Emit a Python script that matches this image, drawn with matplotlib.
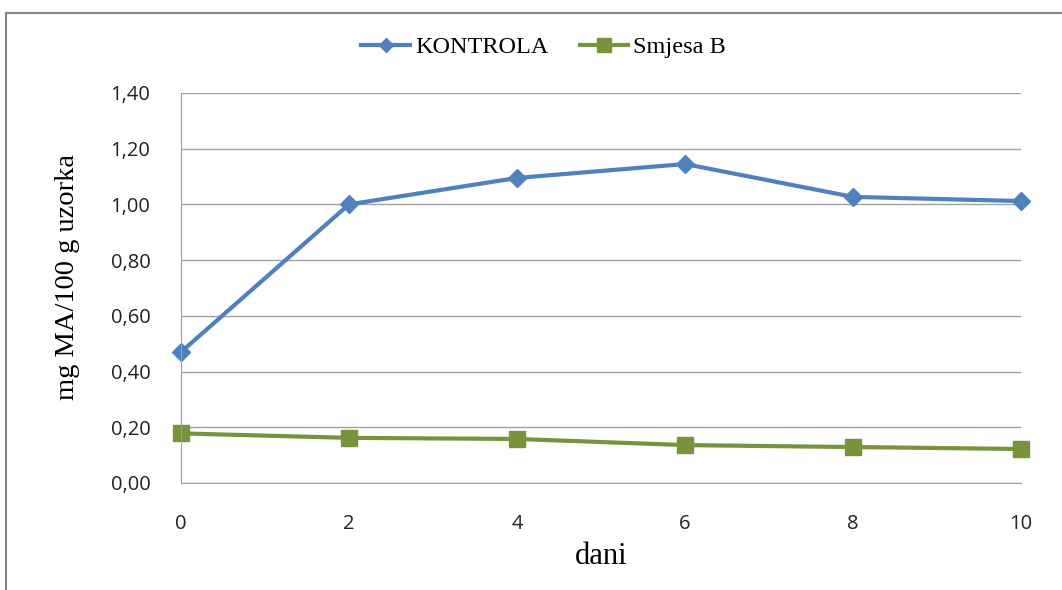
import matplotlib.pyplot as plt
from matplotlib.patches import Rectangle
from matplotlib.ticker import FuncFormatter

dani = [0, 2, 4, 6, 8, 10]
kontrola = [0.47, 1.00, 1.095, 1.145, 1.027, 1.012]
smjesa_b = [0.178, 0.162, 0.158, 0.136, 0.129, 0.122]
y_ticks = [0.0, 0.2, 0.4, 0.6, 0.8, 1.0, 1.2, 1.4]

fig = plt.figure(figsize=(10.62, 5.9), dpi=100)
ax = fig.add_axes([0.1704, 0.1814, 0.7910, 0.6610])

# outer chart border (Excel style)
fig.patches.append(Rectangle((6 / 1062, -0.05), 1.1, 1 - 13 / 590 + 0.05,
                             transform=fig.transFigure, fill=False,
                             edgecolor='#868686', linewidth=1.5))

ax.plot(dani, kontrola, '-D', color='#4F81BD', lw=3, ms=9, label='KONTROLA')
ax.plot(dani, smjesa_b, '-s', color='#77933C', lw=3, ms=12, label='Smjesa B')

ax.set_xlim(0, 10)
ax.set_ylim(0, 1.4)
ax.set_yticks(y_ticks)
ax.set_xticks(dani)
ax.yaxis.set_major_formatter(FuncFormatter(lambda v, p: ('%.2f' % v).replace('.', ',')))
ax.grid(True, axis='y', color='#A0A0A0', lw=1)
ax.set_axisbelow(True)
for s in ['top', 'right']:
    ax.spines[s].set_visible(False)
for s in ['left', 'bottom']:
    ax.spines[s].set_color('#A0A0A0')
ax.tick_params(length=0, labelsize=14.5, colors='#222222')
ax.tick_params(axis='y', pad=22)
ax.tick_params(axis='x', pad=22)
for lab in ax.get_xticklabels() + ax.get_yticklabels():
    lab.set_family('Open Sans')
for l in ax.lines:
    l.set_clip_on(False)

ax.set_xlabel('dani', family='Liberation Serif', fontsize=22, labelpad=6)
ax.set_ylabel('mg MA/100 g uzorka', family='Liberation Serif', fontsize=20.5, labelpad=22)
ax.yaxis.label.set_y(0.528)

leg = ax.legend(loc='center', bbox_to_anchor=(0.512, (590 - 47) / 590), bbox_transform=fig.transFigure,
                ncol=2, frameon=False, prop={'family': 'Liberation Serif', 'size': 17.5},
                handlelength=2.0, columnspacing=1.3, handletextpad=0.2, markerscale=0.8)

fig.savefig('out.png', dpi=100)
